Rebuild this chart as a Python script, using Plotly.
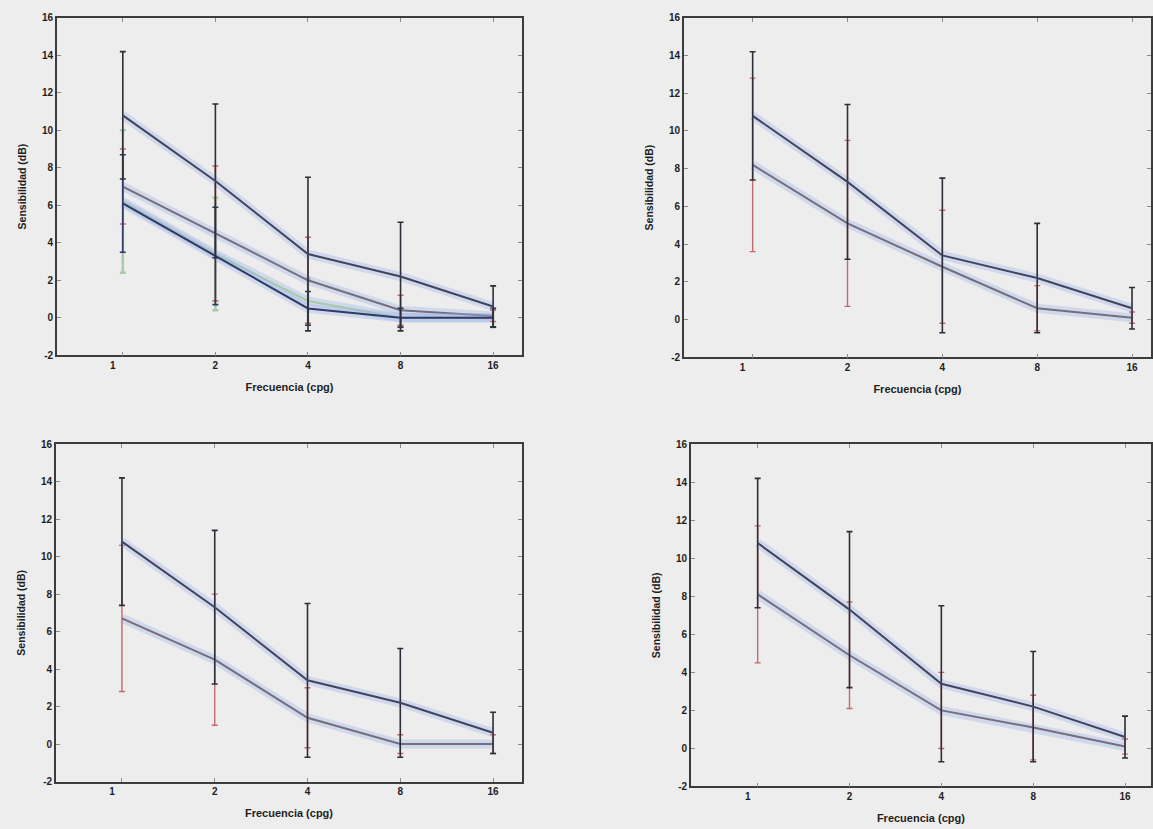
import math
import plotly.graph_objects as go

# ---------------- data ----------------
freq = [1, 2, 4, 8, 16]
freq_labels = ["1", "2", "4", "8", "16"]
y_ticks = [-2, 0, 2, 4, 6, 8, 10, 12, 14, 16]
y_labels = ["-2", "0", "2", "4", "6", "8", "10", "12", "14", "16"]

# reference series (same in every panel)
ref_mean = [10.8, 7.3, 3.4, 2.2, 0.6]
ref_err = [3.4, 4.1, 4.1, 2.9, 1.1]

# panel 1: three comparison groups
p1_gray_mean = [7.0, 4.5, 2.0, 0.4, 0.1]
p1_gray_err = [2.0, 3.6, 2.3, 0.8, 0.3]
p1_green_mean = [6.2, 3.4, 0.9, 0.0, 0.0]
p1_green_err = [3.8, 3.0, 1.2, 0.5, 0.5]
p1_blue_mean = [6.1, 3.3, 0.5, 0.0, 0.0]
p1_blue_err = [2.6, 2.6, 0.9, 0.5, 0.5]

# panel 2
p2_mean = [8.2, 5.1, 2.8, 0.6, 0.1]
p2_err = [4.6, 4.4, 3.0, 1.2, 0.3]
# panel 3
p3_mean = [6.7, 4.5, 1.4, 0.0, 0.0]
p3_err = [3.9, 3.5, 1.6, 0.5, 0.5]
# panel 4
p4_mean = [8.1, 4.9, 2.0, 1.1, 0.1]
p4_err = [3.6, 2.8, 2.0, 1.7, 0.4]

# ---------------- styling ----------------
W, H = 1153, 829
BG = "#ededed"
REF_LINE = "#42445e"
REF_BAR = "#2e2e3a"
GRAY_LINE = "#756e7c"
RED_BAR = "#c46a6a"
GREEN = "#a6cba6"
BLUE = "#2f3a68"
HALO = "rgba(160,182,232,0.38)"
FONT = dict(family="Liberation Sans, Arial, sans-serif", size=10, color="#1e1e1e", weight="bold")
TITLE_FONT = dict(family="Liberation Sans, Arial, sans-serif", size=11, color="#1e1e1e", weight="bold")

# panel boxes in pixels: left, right, top, bottom, x-range in log2 units
panels = [
    dict(l=57, r=523, t=13, b=355, xr=(-0.712, 4.313)),
    dict(l=685, r=1153, t=13, b=357, xr=(-0.726, 4.20)),
    dict(l=56, r=523, t=445, b=787, xr=(-0.712, 4.313)),
    dict(l=692, r=1153, t=445, b=792, xr=(-0.728, 4.283)),
]

fig = go.Figure()


def add_series(i, mean, err, line_color, bar_color, lw=2.0, bw=1.6):
    xa = "x" if i == 0 else f"x{i+1}"
    ya = "y" if i == 0 else f"y{i+1}"
    fig.add_trace(go.Scatter(x=freq, y=mean, mode="lines", xaxis=xa, yaxis=ya,
                             line=dict(color=HALO, width=9), hoverinfo="skip", showlegend=False))
    fig.add_trace(go.Scatter(x=freq, y=mean, mode="lines", xaxis=xa, yaxis=ya,
                             line=dict(color=line_color, width=lw),
                             error_y=dict(type="data", array=err, visible=True,
                                          color=bar_color, thickness=bw, width=3),
                             showlegend=False))


# panel 1
add_series(0, p1_green_mean, p1_green_err, GREEN, GREEN, lw=2.0, bw=2.5)
add_series(0, p1_gray_mean, p1_gray_err, GRAY_LINE, RED_BAR)
add_series(0, p1_blue_mean, p1_blue_err, BLUE, BLUE)
add_series(0, ref_mean, ref_err, REF_LINE, REF_BAR)
# panels 2-4
for i, (m, e) in enumerate([(p2_mean, p2_err), (p3_mean, p3_err), (p4_mean, p4_err)], start=1):
    add_series(i, m, e, GRAY_LINE, RED_BAR, bw=1.4)
    add_series(i, ref_mean, ref_err, REF_LINE, REF_BAR)

label_shift = 2 ** (-10 / 93)  # the "1" label sits slightly left of its tick
tickpos = [label_shift] + freq[1:]

layout = dict(width=W, height=H, margin=dict(l=0, r=0, t=0, b=0),
              paper_bgcolor=BG, plot_bgcolor=BG, font=FONT, showlegend=False)
for i, p in enumerate(panels):
    xk = "xaxis" if i == 0 else f"xaxis{i+1}"
    yk = "yaxis" if i == 0 else f"yaxis{i+1}"
    xa = "x" if i == 0 else f"x{i+1}"
    ya = "y" if i == 0 else f"y{i+1}"
    l2 = math.log10(2)
    layout[xk] = dict(
        type="log", domain=[p["l"] / W, p["r"] / W], anchor=ya,
        range=[p["xr"][0] * l2, p["xr"][1] * l2],
        tickmode="array", tickvals=tickpos, ticktext=freq_labels,
        ticks="inside", ticklen=0, showgrid=False, zeroline=False,
        showline=True, linecolor="#3c3c3c", linewidth=1.5, mirror="ticks",
        minor=dict(tickmode="array", tickvals=freq, ticks="inside", ticklen=4,
                   tickcolor="#8a8a8a", tickwidth=1, showgrid=False),
        title=dict(text="Frecuencia (cpg)", standoff=13, font=TITLE_FONT),
        tickfont=FONT,
    )
    layout[yk] = dict(
        domain=[1 - p["b"] / H, 1 - p["t"] / H], anchor=xa,
        range=[-2, 16], tickmode="array", tickvals=y_ticks, ticktext=y_labels,
        ticks="inside", ticklen=4, tickcolor="#8a8a8a", tickwidth=1,
        showgrid=False, zeroline=False,
        showline=True, linecolor="#3c3c3c", linewidth=1.5, mirror="ticks",
        title=dict(text="Sensibilidad (dB)", standoff=13, font=dict(TITLE_FONT, size=10.5)),
        tickfont=FONT,
    )

fig.update_layout(**layout)
fig.write_html("out.html")
